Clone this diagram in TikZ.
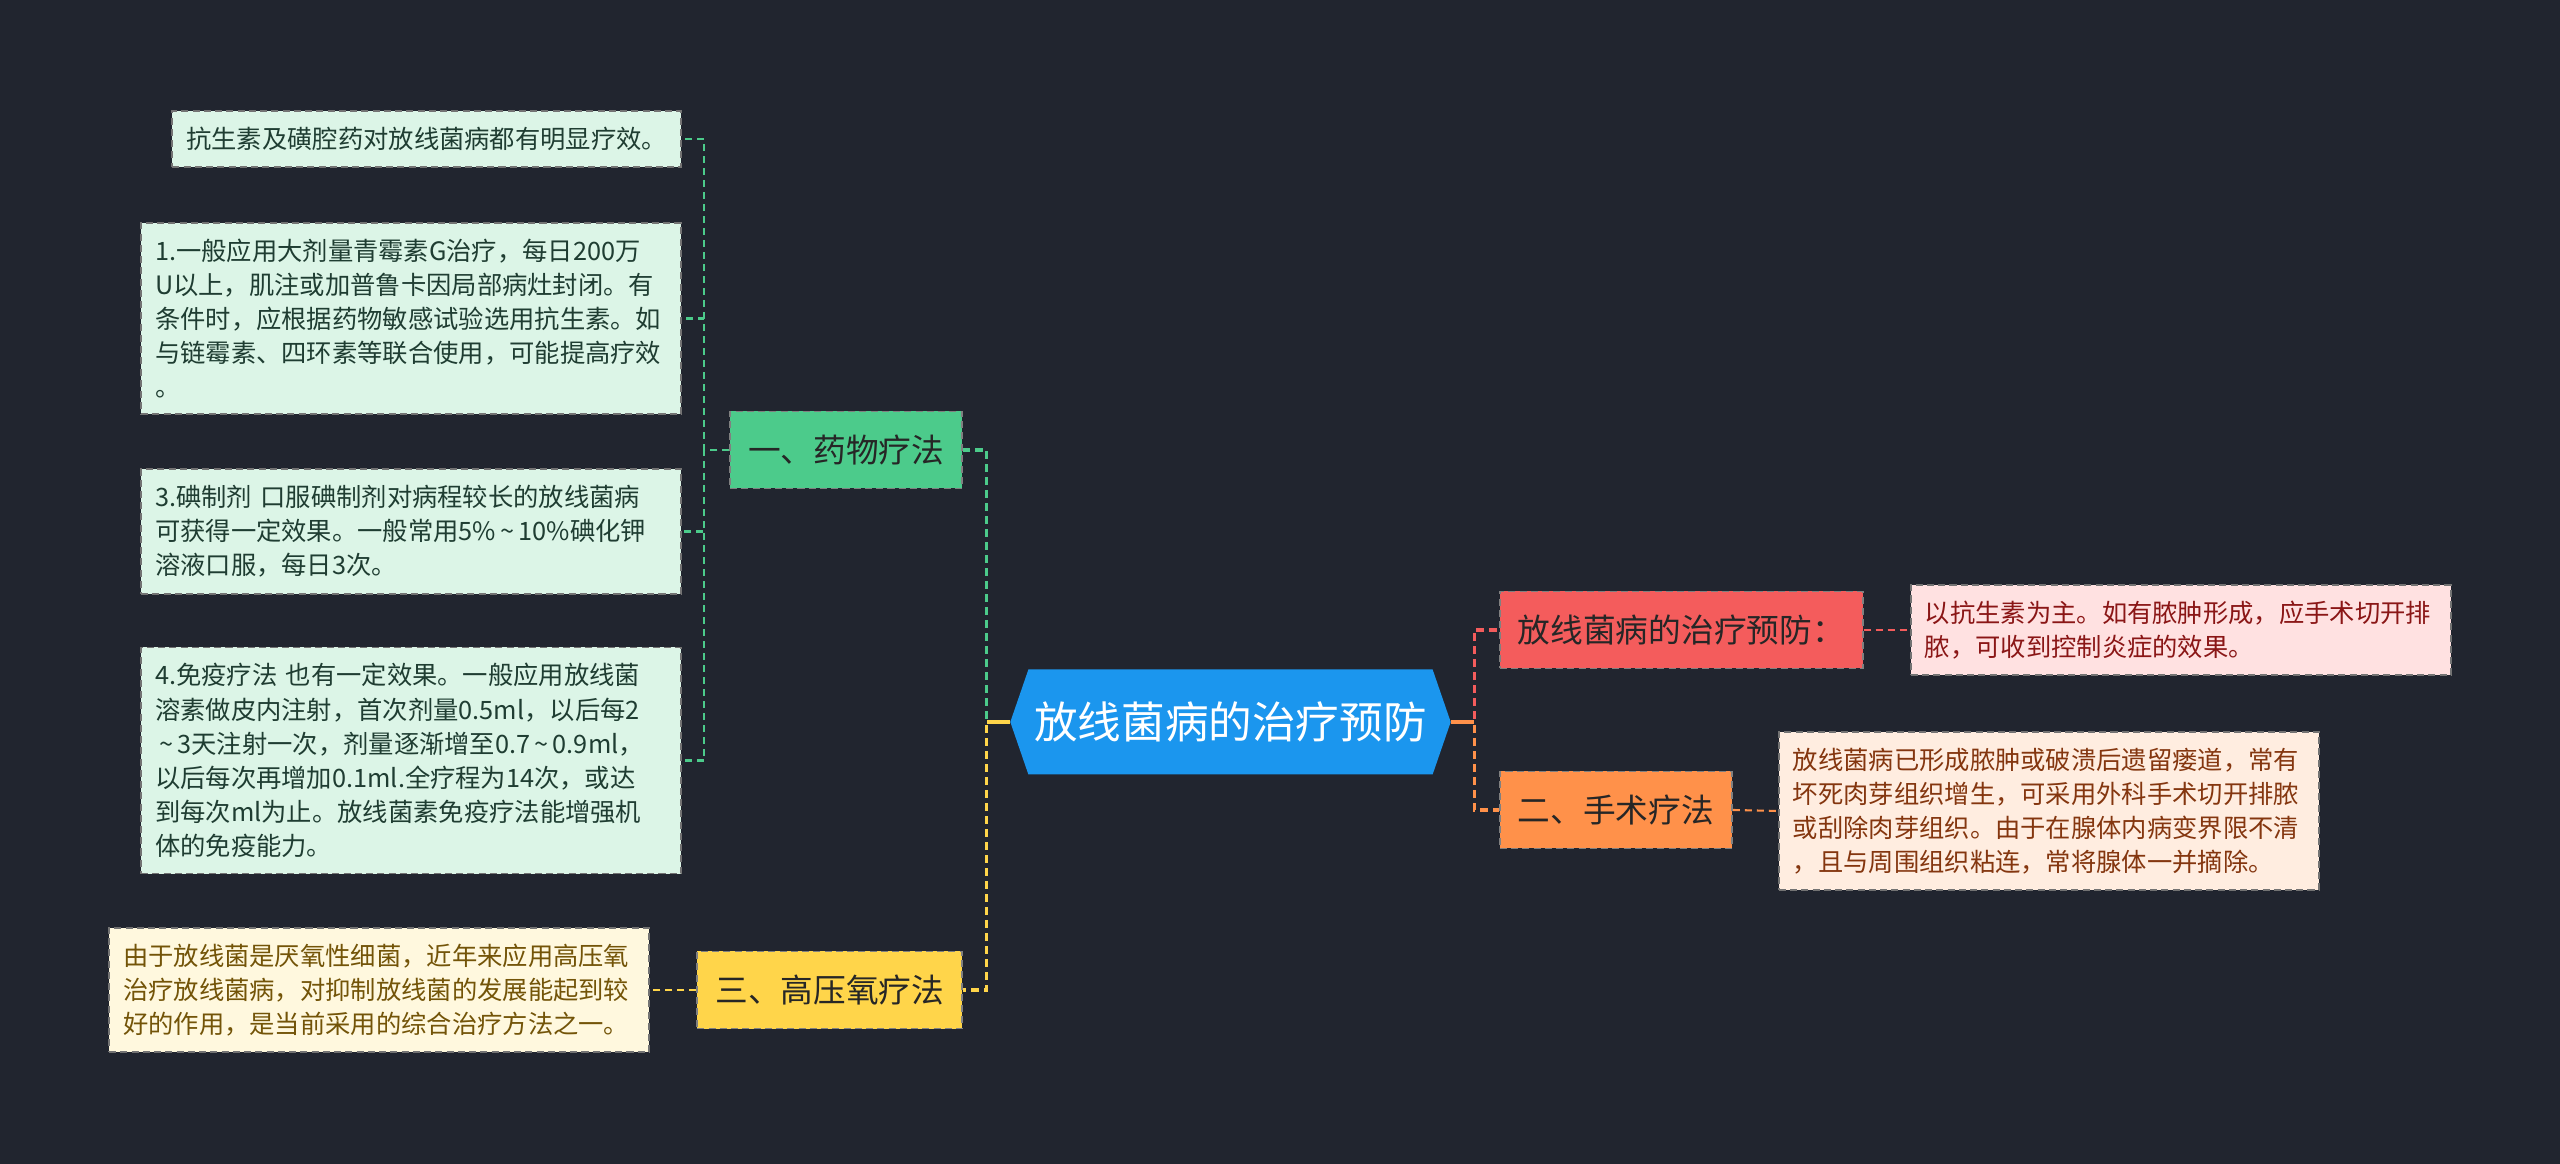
\documentclass[tikz,border=0pt]{standalone}
\usepackage{fontspec}
\setmainfont{Noto Sans CJK SC}
\usetikzlibrary{shapes.symbols}
\definecolor{canvas}{HTML}{21252F}
\definecolor{rootblue}{HTML}{1B96EE}
\definecolor{mint}{HTML}{4CCB8B}
\definecolor{sun}{HTML}{FFD54A}
\definecolor{coral}{HTML}{F45C5C}
\definecolor{tangerine}{HTML}{FF914A}
\definecolor{mintleaf}{HTML}{DCF5E7}
\definecolor{sunleaf}{HTML}{FFF8DE}
\definecolor{coralleaf}{HTML}{FFE1E1}
\definecolor{tangleaf}{HTML}{FFEDE0}
\definecolor{mintink}{HTML}{1F3D32}
\definecolor{sunink}{HTML}{735408}
\definecolor{coralink}{HTML}{8A1616}
\definecolor{tangink}{HTML}{84360F}
\definecolor{darkink}{HTML}{262626}
\newcommand{\wave}{\,\textasciitilde\,}

\begin{document}
\begin{tikzpicture}[
  font=\fontsize{7.2}{9.7}\selectfont,
  leaf/.style={draw=black!55,dash pattern=on 2pt off 1.2pt,line width=.5pt,
    text width=5.12cm,inner xsep=.14cm,inner ysep=.16cm,align=left},
  branch/.style={draw=black!50,dash pattern=on 2pt off 1.2pt,line width=.5pt,
    minimum height=.77cm,inner xsep=.18cm,text=darkink,
    font=\fontsize{9.3}{11}\selectfont},
  link/.style={line width=1pt,dash pattern=on .08cm off .05cm},
  twig/.style={line width=.6pt,dash pattern=on .07cm off .05cm}]
  \useasboundingbox[fill=canvas] (0,0) rectangle (25.6,-11.64);

  % centre
  \node[shape=signal,signal to=west and east,signal pointer angle=142,
        fill=rootblue,text=white,inner xsep=.06cm,minimum height=1.05cm,
        font=\fontsize{12.4}{14}\selectfont] (root) at (12.305,-7.22)
    {放线菌病的治疗预防};

  % left branches
  \node[branch,fill=mint,anchor=east] (drug) at (9.63,-4.50) {一、药物疗法};
  \node[branch,fill=sun,anchor=east] (oxy) at (9.63,-9.90) {三、高压氧疗法};

  \node[leaf,fill=mintleaf,text=mintink,text width=,anchor=east] (antibio)
    at (6.82,-1.39) {抗生素及磺腔药对放线菌病都有明显疗效。};
  \node[leaf,fill=mintleaf,text=mintink,anchor=east] (penicillin) at (6.82,-3.185)
    {1.一般应用大剂量青霉素G治疗，每日200万\\
     U以上，肌注或加普鲁卡因局部病灶封闭。有\\
     条件时，应根据药物敏感试验选用抗生素。如\\
     与链霉素、四环素等联合使用，可能提高疗效\\
     。};
  \node[leaf,fill=mintleaf,text=mintink,anchor=east] (iodine) at (6.82,-5.315)
    {3.碘制剂 口服碘制剂对病程较长的放线菌病\\
     可获得一定效果。一般常用5\%\wave10\%碘化钾\\
     溶液口服，每日3次。};
  \node[leaf,fill=mintleaf,text=mintink,anchor=east] (immune) at (6.82,-7.605)
    {4.免疫疗法 也有一定效果。一般应用放线菌\\
     溶素做皮内注射，首次剂量0.5ml，以后每2\\
     \wave3天注射一次，剂量逐渐增至0.7\wave0.9ml，\\
     以后每次再增加0.1ml.全疗程为14次，或达\\
     到每次ml为止。放线菌素免疫疗法能增强机\\
     体的免疫能力。};
  \node[leaf,fill=sunleaf,text=sunink,anchor=east] (oxyleaf) at (6.50,-9.90)
    {由于放线菌是厌氧性细菌，近年来应用高压氧\\
     治疗放线菌病，对抑制放线菌的发展能起到较\\
     好的作用，是当前采用的综合治疗方法之一。};

  % right branches
  \node[branch,fill=coral,anchor=west] (prevent) at (14.99,-6.30)
    {放线菌病的治疗预防：};
  \node[branch,fill=tangerine,anchor=west] (surgery) at (14.99,-8.10)
    {二、手术疗法};

  \node[leaf,fill=coralleaf,text=coralink,anchor=west] (prevleaf) at (19.10,-6.30)
    {以抗生素为主。如有脓肿形成，应手术切开排\\
     脓，可收到控制炎症的效果。};
  \node[leaf,fill=tangleaf,text=tangink,anchor=west] (surgleaf) at (17.78,-8.11)
    {放线菌病已形成脓肿或破溃后遗留瘘道，常有\\
     坏死肉芽组织增生，可采用外科手术切开排脓\\
     或刮除肉芽组织。由于在腺体内病变界限不清\\
     ，且与周围组织粘连，常将腺体一并摘除。};

  % connectors
  \draw[link,mint] (root.west) -- ++(-.23,0) |- (drug.east);
  \draw[link,sun] (root.west) -- ++(-.23,0) |- (oxy.east);
  \draw[link,sun,solid] (root.west) -- ++(-.23,0);
  \draw[link,coral] (root.east) -- ++(.23,0) |- (prevent.west);
  \draw[link,tangerine] (root.east) -- ++(.23,0) |- (surgery.west);
  \draw[link,tangerine,solid] (root.east) -- ++(.23,0);

  \foreach \leafname in {antibio,penicillin,iodine,immune}
    \draw[twig,mint] (drug.west) -- ++(-.25,0) |- (\leafname.east);
  \draw[twig,sun] (oxy.west) -- (oxyleaf.east);
  \draw[twig,coral] (prevent.east) -- (prevleaf.west);
  \draw[twig,tangerine] (surgery.east) -- (surgleaf.west);
\end{tikzpicture}
\end{document}
